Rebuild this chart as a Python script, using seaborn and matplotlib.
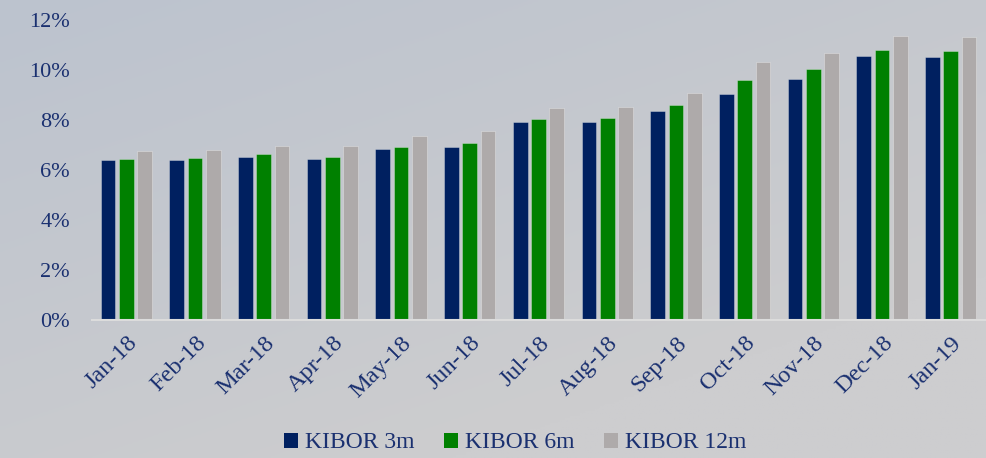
import numpy as np
import pandas as pd
import matplotlib
matplotlib.use("Agg")
import matplotlib.pyplot as plt
import seaborn as sns
from matplotlib.patches import Patch
from matplotlib.ticker import FuncFormatter

# data (percent)
months = ["Jan-18", "Feb-18", "Mar-18", "Apr-18", "May-18", "Jun-18", "Jul-18",
          "Aug-18", "Sep-18", "Oct-18", "Nov-18", "Dec-18", "Jan-19"]
kibor_3m = [6.39, 6.40, 6.51, 6.43, 6.83, 6.92, 7.92, 7.92, 8.35, 9.03, 9.63, 10.57, 10.52]
kibor_6m = [6.44, 6.47, 6.63, 6.52, 6.91, 7.08, 8.04, 8.08, 8.60, 9.61, 10.03, 10.81, 10.76]
kibor_12m = [6.76, 6.79, 6.96, 6.96, 7.36, 7.56, 8.48, 8.52, 9.07, 10.31, 10.67, 11.36, 11.33]
series = ["KIBOR 3m", "KIBOR 6m", "KIBOR 12m"]
colors = ["#002060", "#008000", "#AEAAAA"]

df = pd.DataFrame({"month": months, "KIBOR 3m": kibor_3m,
                   "KIBOR 6m": kibor_6m, "KIBOR 12m": kibor_12m})
long_df = df.melt(id_vars="month", var_name="series", value_name="rate")

sns.set_style("white")
plt.rcParams["font.family"] = ["Liberation Serif", "DejaVu Serif"]
text_color = "#1a3070"

fig = plt.figure(figsize=(9.87, 4.58), dpi=100)

# gradient background
bg = fig.add_axes([0, 0, 1, 1], zorder=-10)
yy, xx = np.mgrid[0:1:200j, 0:1:200j]
t = np.clip(0.55 * xx + 0.75 * yy, 0, 1)
c0 = np.array([188, 195, 206]) / 255.0
c1 = np.array([205, 205, 207]) / 255.0
img = c0[None, None, :] * (1 - t[..., None]) + c1[None, None, :] * t[..., None]
bg.imshow(img, aspect="auto", extent=[0, 1, 0, 1], origin="upper")
bg.axis("off")

ax = fig.add_axes([0.0932, 0.3013, 0.9048, 0.655])
ax.patch.set_alpha(0)
sns.barplot(data=long_df, x="month", y="rate", hue="series", hue_order=series,
            palette=colors, saturation=1, width=0.8, gap=0.2, ax=ax, legend=False,
            linewidth=0.7)
for p in ax.patches:
    p.set_edgecolor((1, 1, 1, 0.3))

ax.set_ylim(0, 12)
ax.set_yticks(range(0, 13, 2))
ax.yaxis.set_major_formatter(FuncFormatter(lambda v, _: f"{v:.0f}%"))
ax.set_xlim(-0.5, len(months) - 0.5)
ax.set_xlabel("")
ax.set_ylabel("")
for s in ["top", "right", "left"]:
    ax.spines[s].set_visible(False)
ax.spines["bottom"].set_color("#dcdcdc")
ax.spines["bottom"].set_linewidth(1.5)
ax.tick_params(axis="y", length=0, labelsize=16, colors=text_color, pad=16)
ax.tick_params(axis="x", length=0, labelsize=17.5, colors=text_color, pad=9)
plt.setp(ax.get_xticklabels(), rotation=45, ha="right", rotation_mode="anchor")

handles = [Patch(facecolor=c, edgecolor="none") for c in colors]
leg = fig.legend(handles, series, loc="center", bbox_to_anchor=(0.522, 0.033),
                 ncol=3, frameon=False, fontsize=17, handlelength=0.6,
                 handleheight=0.6, handletextpad=0.3, columnspacing=1.25)
for txt in leg.get_texts():
    txt.set_color(text_color)

fig.savefig("out.png", dpi=100)
